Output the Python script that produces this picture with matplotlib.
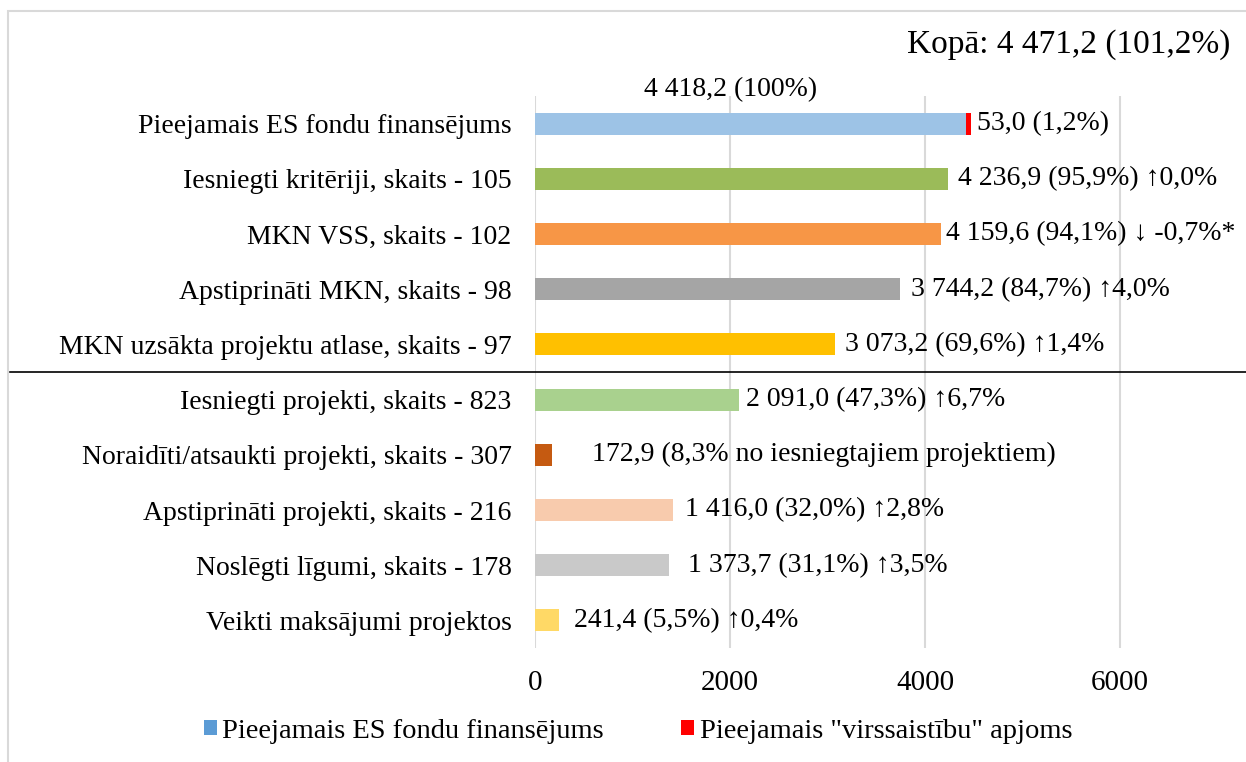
import matplotlib
matplotlib.use("Agg")
import matplotlib.pyplot as plt
from matplotlib.patches import Rectangle, Patch
from matplotlib.lines import Line2D
from matplotlib import transforms

plt.rcParams['font.family'] = ['Liberation Serif', 'DejaVu Serif']

categories = [
    "Pieejamais ES fondu finansējums",
    "Iesniegti kritēriji, skaits - 105",
    "MKN VSS, skaits - 102",
    "Apstiprināti MKN, skaits - 98",
    "MKN uzsākta projektu atlase, skaits - 97",
    "Iesniegti projekti, skaits - 823",
    "Noraidīti/atsaukti projekti, skaits - 307",
    "Apstiprināti projekti, skaits - 216",
    "Noslēgti līgumi, skaits - 178",
    "Veikti maksājumi projektos",
]
values = [4418.2, 4236.9, 4159.6, 3744.2, 3073.2, 2091.0, 172.9, 1416.0, 1373.7, 241.4]
extra = [53.0, 0, 0, 0, 0, 0, 0, 0, 0, 0]
value_labels = [
    "53,0 (1,2%)",
    "4 236,9 (95,9%) \u21910,0%",
    "4 159,6 (94,1%) \u2193 -0,7%*",
    "3 744,2 (84,7%) \u21914,0%",
    "3 073,2 (69,6%) \u21911,4%",
    "2 091,0 (47,3%) \u21916,7%",
    "172,9 (8,3% no iesniegtajiem projektiem)",
    "1 416,0 (32,0%) \u21912,8%",
    "1 373,7 (31,1%) \u21913,5%",
    "241,4 (5,5%) \u21910,4%",
]
top_label = "4 418,2 (100%)"
total_label = "Kopā: 4 471,2 (101,2%)"
legend_labels = ["Pieejamais ES fondu finansējums", "Pieejamais \"virssaistību\" apjoms"]
xticks = [0, 2000, 4000, 6000]

colors = ["#9DC3E6", "#9BBB59", "#F79646", "#A5A5A5", "#FFC000",
          "#A9D18E", "#C55A11", "#F8CBAD", "#C9C9C9", "#FFD966"]
label_offsets = [6, 10, 5, 11, 10, 7, 40, 12, 19, 15]

FS = 20
W, H = 1246, 762
fig = plt.figure(figsize=(W / 100, H / 100), dpi=100)
ax = fig.add_axes([535 / W, 1 - 648 / H, (1245 - 535) / W, (648 - 96) / H])

y = list(range(len(categories)))
ax.barh(y, values, height=0.4, color=colors, zorder=2)
ax.barh(y, extra, left=values, height=0.4, color="#FF0000", zorder=2)

ax.set_xlim(0, (1245 - 535) / 0.0975)
ax.set_ylim(len(categories) - 0.5, -0.5)
ax.set_xticks(xticks)
ax.set_xticklabels([str(t) for t in xticks], fontsize=21)
ax.set_yticks(y)
ax.set_yticklabels(categories, fontsize=FS)
ax.tick_params(axis='both', length=0)
ax.tick_params(axis='x', pad=16)
ax.tick_params(axis='y', pad=17)
ax.grid(axis='x', color="#D9D9D9", linewidth=1.5, zorder=0)
for s in ax.spines.values():
    s.set_visible(False)

ppx = 72 / 100
for i, (v, e, lab, off) in enumerate(zip(values, extra, value_labels, label_offsets)):
    ax.annotate(lab, xy=(v + e, i), xytext=(off * ppx, 0), textcoords='offset points',
                va='center', ha='left', fontsize=FS, color="black")

ax.annotate(top_label, xy=(values[0] / 2, 0), xytext=(-20 * ppx, 34 * ppx), textcoords='offset points',
            va='center', ha='center', fontsize=FS)
fig.text(1230 / W, 1 - 45 / H, total_label, ha='right', va='center', fontsize=24)

# separator line between groups
trans = transforms.blended_transform_factory(fig.transFigure, ax.transData)
fig.add_artist(Line2D([10 / W, 1.0], [4.5, 4.5], transform=trans, color="black", linewidth=1.2))

# frame
fig.add_artist(Rectangle((8 / W, -0.05), 1.2, 1 + 0.05 - 11 / H, transform=fig.transFigure,
                         fill=False, edgecolor="#D9D9D9", linewidth=1.5))

handles = [Patch(facecolor="#5B9BD5"), Patch(facecolor="#FF0000")]
fig.legend(handles, legend_labels, loc='center', bbox_to_anchor=(638 / W, 1 - 731 / H),
           ncol=2, frameon=False, fontsize=20.5, handlelength=0.45, handleheight=0.45,
           handletextpad=0.2, columnspacing=2.7)

fig.savefig("out.png", dpi=100)
